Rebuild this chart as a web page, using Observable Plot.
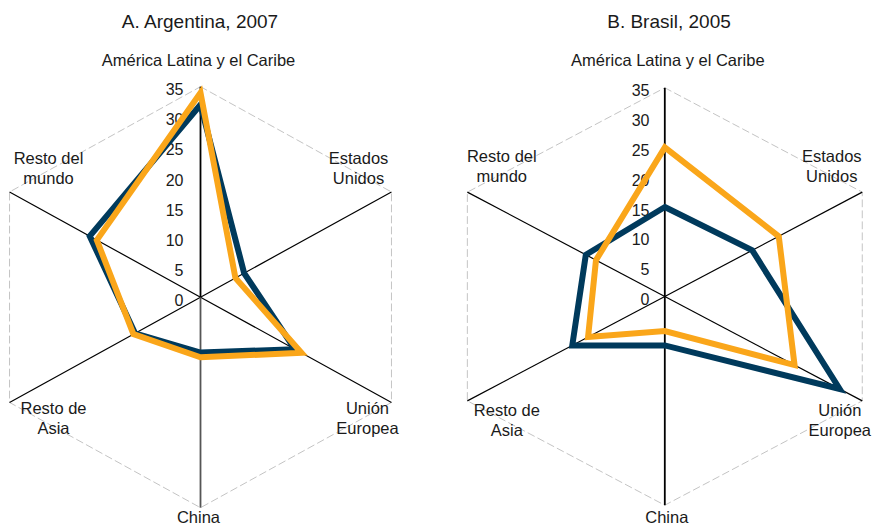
<!DOCTYPE html>
<html><head><meta charset="utf-8">
<script src="https://cdn.jsdelivr.net/npm/d3@7"></script>
<script src="https://cdn.jsdelivr.net/npm/@observablehq/plot@0.6"></script>
<style>
body{margin:0;background:#fff;font-family:"Liberation Sans",Arial,sans-serif;}
#wrap{display:flex;width:873px;height:528px;overflow:hidden;}
.panel{position:relative;padding-top:40px;}
.title{position:absolute;top:0;height:40px;line-height:43px;transform:translateX(-50%);white-space:nowrap;font-size:19px;color:#1a1a1a;}
</style></head><body><div id="wrap"></div>
<script>
const categories = ["América Latina y el Caribe","Estados\nUnidos","Unión\nEuropea","China","Resto de\nAsia","Resto del\nmundo"];
const ticks = [0,5,10,15,20,25,30,35];
const titles = ["A. Argentina, 2007","B. Brasil, 2005"];
const argentinaSerie1 = [32, 8, 17.3, 9.2, 12, 20.3];
const argentinaSerie2 = [34, 6.4, 18.5, 10, 12.3, 19];
const brasilSerie1 = [15, 15.5, 31, 8.2, 16.4, 14];
const brasilSerie2 = [25, 20.2, 23, 5.8, 13.6, 12.2];

const NAVY = "#003a5c", ORANGE = "#faa61a", MAXV = 35;
const ang = i => i * Math.PI / 3;

function radar(o) {
  const rows = vals => vals.map((v, i) => ({i, v}));
  const spokes = categories.map((c, i) => ({i}));
  const px = d => d.v * Math.sin(ang(d.i)), py = d => d.v * Math.cos(ang(d.i));
  const ox = d => MAXV * Math.sin(ang(d.i)), oy = d => MAXV * Math.cos(ang(d.i));
  const marks = [
    Plot.line(spokes, {x: ox, y: oy, curve: "linear-closed", stroke: "#c4c4c4", strokeWidth: 1, strokeDasharray: "7,4"}),
    Plot.link(spokes.filter(d => d.i !== 0 && d.i !== 3), {x1: 0, y1: 0, x2: ox, y2: oy, stroke: "#000", strokeWidth: 1.2}),
    Plot.link(spokes.filter(d => d.i === 3), {x1: 0, y1: 0, x2: ox, y2: oy, stroke: o.chinaColor, strokeWidth: 1.8}),
    Plot.link(spokes.filter(d => d.i === 0), {x1: 0, y1: 0, x2: ox, y2: oy, stroke: "#000", strokeWidth: 1.8}),
    Plot.text(ticks, {x: 0, y: d => d, text: d => String(d), textAnchor: "end", dx: o.tickDx, dy: 3.5, fontSize: 16, fill: "#1a1a1a"}),
    Plot.line(rows(o.s1), {x: px, y: py, curve: "linear-closed", stroke: NAVY, strokeWidth: 6, strokeLinejoin: "miter", strokeMiterlimit: 10}),
    Plot.line(rows(o.s2), {x: px, y: py, curve: "linear-closed", stroke: ORANGE, strokeWidth: 6, strokeLinejoin: "miter", strokeMiterlimit: 10}),
    ...categories.map((c, i) => Plot.text([c], {x: 0, y: 0, text: d => d, dx: o.labels[i][0], dy: o.labels[i][1], fontSize: 16.5, lineHeight: 1.22, fill: "#1a1a1a", textAnchor: "middle", lineAnchor: "middle"}))
  ];
  return Plot.plot({
    width: o.width, height: o.height, margin: 0,
    x: {axis: null, domain: [-MAXV, MAXV], range: [o.cx - o.rx, o.cx + o.rx]},
    y: {axis: null, domain: [-MAXV, MAXV], range: [o.cy + o.ry, o.cy - o.ry]},
    style: {fontFamily: "'Liberation Sans', Arial, sans-serif", background: "transparent", overflow: "visible"},
    marks
  });
}

const panels = [
  {width: 436, height: 488, cx: 200, cy: 256.7, rx: 220.5, ry: 210.5, s1: argentinaSerie1, s2: argentinaSerie2, tickDx: -17, chinaColor: "#555", titleX: 200,
   labels: [[-2,-238],[158,-130],[167,120],[-2,219],[-147,120],[-152,-130]]},
  {width: 437, height: 488, cx: 228.3, cy: 256, rx: 228, ry: 208.7, s1: brasilSerie1, s2: brasilSerie2, tickDx: -15.3, chinaColor: "#000", titleX: 233,
   labels: [[3,-237],[167,-131],[175,123],[2,220],[-158,123],[-163,-131]]}
];
const wrap = document.getElementById("wrap");
panels.forEach((p, k) => {
  const div = document.createElement("div");
  div.className = "panel";
  div.style.width = p.width + "px";
  const t = document.createElement("div");
  t.className = "title";
  t.style.left = p.titleX + "px";
  t.textContent = titles[k];
  div.appendChild(t);
  div.appendChild(radar(p));
  wrap.appendChild(div);
});
</script></body></html>
